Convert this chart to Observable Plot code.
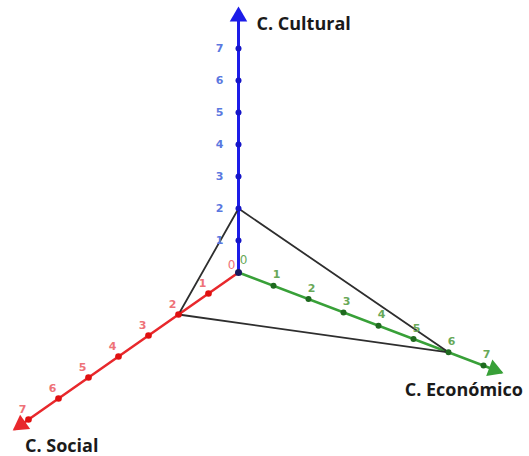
<!DOCTYPE html>
<html>
<head>
<meta charset="utf-8">
<script src="https://cdn.jsdelivr.net/npm/d3@7"></script>
<script src="https://cdn.jsdelivr.net/npm/@observablehq/plot@0.6"></script>
<style>
  html, body { margin: 0; padding: 0; background: #fff; }
  #chart { width: 529px; height: 456px; }
</style>
</head>
<body>
<div id="chart"></div>
<script>
// Axes (dimensions) and their tick values
const axisNames = ["C. Cultural", "C. Económico", "C. Social"];
const axisKeys = ["c", "e", "s"];
const tickValues = [1, 2, 3, 4, 5, 6, 7];
const axisMax = [8.2, 7.5, 7.45];
// Triangle vertex values on each axis
const triangleValues = [2, 6, 2];   // Cultural, Económico, Social

const axisColors = ["#1c1ce8", "#38a038", "#e8282c"];
const tickColors = ["#1515c8", "#1f6a1f", "#e01010"];
const labelColors = ["#5a78e0", "#68a858", "#ee7278"];

// oblique 3D projection (unit vectors per axis, in projected units)
const unit = {c: [0, 32], e: [35, -13.3], s: [-30, -21]};
function project(c, e, s) {
  return [c * unit.c[0] + e * unit.e[0] + s * unit.s[0],
          c * unit.c[1] + e * unit.e[1] + s * unit.s[1]];
}
function along(key, v) {
  return project(key === "c" ? v : 0, key === "e" ? v : 0, key === "s" ? v : 0);
}

// axis lines
const axisLines = axisKeys.flatMap((k, i) => [
  {axis: i, order: 0, xy: along(k, 0)},
  {axis: i, order: 1, xy: along(k, axisMax[i])}
]);
// arrow heads
const heads = axisKeys.map((k, i) => {
  const tip = along(k, axisMax[i] - 0.2);
  const d = along(k, 1);
  const ang = Math.atan2(d[0], d[1]) * 180 / Math.PI; // clockwise from up
  return {axis: i, xy: tip, rot: ang};
});
// ticks
const ticks = axisKeys.flatMap((k, i) => tickValues.map(v => ({axis: i, v, xy: along(k, v)})));
// tick label offsets
const tickLabelDx = [-19, 3, -6];
const tickLabelDy = [0, -11, -10];
const zeroLabels = [
  {axis: 1, label: "0", xy: along("e", 0), dx: 5, dy: -12},
  {axis: 2, label: "0", xy: along("s", 0), dx: -7, dy: -7}
];
// triangle
const tri = [
  project(triangleValues[0], 0, 0),
  project(0, triangleValues[1], 0),
  project(0, 0, triangleValues[2]),
  project(triangleValues[0], 0, 0)
];
// axis titles
const titles = [
  {name: axisNames[0], xy: along("c", 7.8), dx: 18, dy: 1, anchor: "start"},
  {name: axisNames[1], xy: along("e", axisMax[1]), dx: 22, dy: 18, anchor: "end"},
  {name: axisNames[2], xy: along("s", axisMax[2]), dx: 10, dy: 17, anchor: "start"}
];

const originPx = [238, 272];
const W = 529, H = 456;

const plot = Plot.plot({
  width: W,
  height: H,
  margin: 0,
  x: {domain: [-originPx[0], W - originPx[0]], range: [0, W], axis: null},
  y: {domain: [originPx[1] - H, originPx[1]], range: [H, 0], axis: null},
  style: {background: "white"},
  marks: [
    ...axisKeys.map((k, i) => Plot.line(axisLines.filter(d => d.axis === i), {
      x: d => d.xy[0], y: d => d.xy[1],
      stroke: axisColors[i], strokeWidth: i === 0 ? 3 : 2.5
    })),
    Plot.line(tri, {x: d => d[0], y: d => d[1], stroke: "#2e2e2e", strokeWidth: 1.8}),
    Plot.dot(heads, {
      x: d => d.xy[0], y: d => d.xy[1], symbol: "triangle", r: 6.5,
      rotate: d => d.rot, fill: d => axisColors[d.axis], stroke: "none"
    }),
    Plot.dot(ticks, {
      x: d => d.xy[0], y: d => d.xy[1], r: d => d.axis === 2 ? 3.2 : 2.6,
      fill: d => tickColors[d.axis], stroke: "none"
    }),
    Plot.dot([project(0, 0, 0)], {x: d => d[0], y: d => d[1], r: 3.5, fill: "#1a1a60"}),
    ...[0, 1, 2].map(i => Plot.text(ticks.filter(d => d.axis === i), {
      x: d => d.xy[0], y: d => d.xy[1], text: d => String(d.v),
      dx: tickLabelDx[i], dy: tickLabelDy[i],
      fill: labelColors[i], fontSize: 11, fontWeight: "bold", fontFamily: "DejaVu Sans"
    })),
    ...zeroLabels.map(z => Plot.text([z], {
      x: d => d.xy[0], y: d => d.xy[1], text: d => d.label,
      dx: z.dx, dy: z.dy, fill: labelColors[z.axis],
      fontSize: 12, fontFamily: "DejaVu Sans"
    })),
    ...titles.map(t => Plot.text([t], {
      x: d => d.xy[0], y: d => d.xy[1], text: d => d.name,
      dx: t.dx, dy: t.dy, textAnchor: t.anchor,
      fill: "#1a1a1a", fontSize: 18, fontWeight: "bold", fontFamily: "Open Sans"
    }))
  ]
});
document.getElementById("chart").appendChild(plot);
</script>
</body>
</html>
